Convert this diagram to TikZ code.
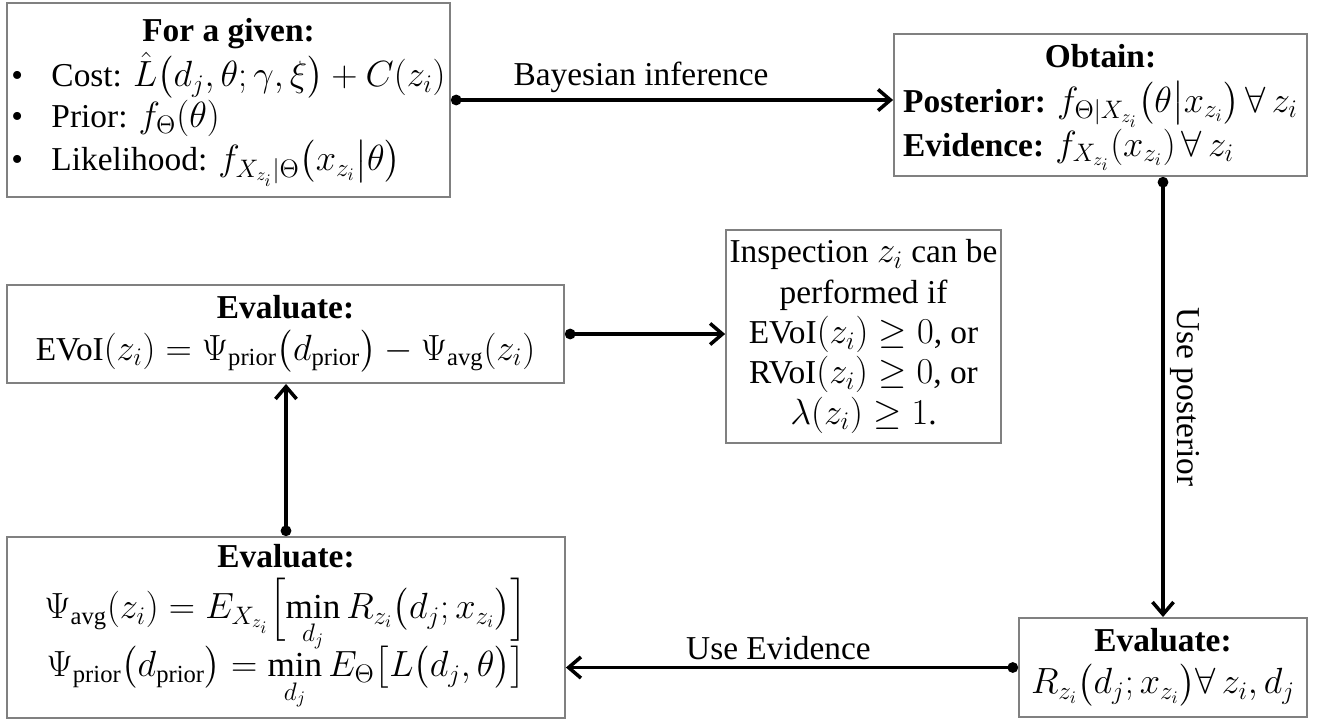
\documentclass[tikz,border=0pt]{standalone}
\usepackage{fontspec}
\usepackage{amsmath,amssymb}
\setmainfont{Liberation Serif}
\DeclareMathSizes{19}{20}{14}{10}
\usetikzlibrary{arrows.meta}

\tikzset{
  box/.style={draw=black!50, line width=1.1pt, inner sep=2pt, align=center},
  flow/.style={line width=2pt, {Circle[length=6pt]}-{Straight Barb[length=7pt,width=12pt]}},
}

\begin{document}
\begin{tikzpicture}[x=0.02cm,y=-0.02cm,font=\fontsize{19}{23}\selectfont]
\useasboundingbox (0,0) rectangle (1317,720);

% boxes
\node[box, minimum width=8.86cm, minimum height=3.88cm] (given) at (228.5,100)
  {\begin{tabular}{@{}l@{}}
   \multicolumn{1}{c}{\textbf{For a given:}}\\[-1pt]
   \textbullet\hspace{0.85em}Cost: $\hat{L}\bigl(d_j,\theta;\gamma,\xi\bigr)+C(z_i)$\\
   \textbullet\hspace{0.85em}Prior: $f_{\Theta}(\theta)$\\
   \textbullet\hspace{0.85em}Likelihood: $f_{X_{z_i}|\Theta}\bigl(x_{z_i}\big|\theta\bigr)$
   \end{tabular}};
\node[box, minimum width=8.26cm, minimum height=2.84cm] (obtain) at (1100.5,105)
  {\begin{tabular}{@{}l@{}}
   \multicolumn{1}{c}{\textbf{Obtain:}}\\[1pt]
   \textbf{Posterior:} $f_{\Theta|X_{z_i}}\bigl(\theta\big|x_{z_i}\bigr)\,\forall\,z_i$\\
   \textbf{Evidence:} $f_{X_{z_i}}(x_{z_i})\,\forall\,z_i$
   \end{tabular}};
\node[box, minimum width=11.14cm, minimum height=1.96cm] (evoi) at (285.5,334)
  {\textbf{Evaluate:}\\[1pt]
   EVoI$(z_i)=\Psi_{\mathrm{prior}}\bigl(d_{\mathrm{prior}}\bigr)-\Psi_{\mathrm{avg}}(z_i)$};
\node[box, minimum width=4.82cm, minimum height=4.26cm] (inspect) at (863.5,336.5)
  {Inspection $z_i$ can be\\ performed if\\ EVoI$(z_i)\geq 0$, or\\
   RVoI$(z_i)\geq 0$, or\\ $\lambda(z_i)\geq 1$.};
\node[box, minimum width=11.16cm, minimum height=3.62cm] (psi) at (286,627.5)
  {\textbf{Evaluate:}\\[4pt]
   $\Psi_{\mathrm{avg}}(z_i)=E_{X_{z_i}}\Bigl[\min\limits_{d_j}R_{z_i}\bigl(d_j;x_{z_i}\bigr)\Bigr]$\\[-5pt]
   $\Psi_{\mathrm{prior}}\bigl(d_{\mathrm{prior}}\bigr)=\min\limits_{d_j}E_{\Theta}\bigl[L\bigl(d_j,\theta\bigr)\bigr]$};
\node[box, minimum width=5.76cm, minimum height=1.98cm] (risk) at (1163,667.5)
  {\textbf{Evaluate:}\\[1pt]
   $R_{z_i}\bigl(d_j;x_{z_i}\bigr)\forall\,z_i,d_j$};

% connectors
\draw[flow] (given.east) -- node[above, pos=0.43] {Bayesian inference} (given.east -| obtain.west);
\draw[flow] (obtain.south -| risk.north) -- node[sloped, above] {Use posterior} (risk.north);
\draw[flow] (risk.west) -- node[above, pos=0.53] {Use Evidence} (risk.west -| psi.east);
\draw[flow] (psi.north) -- (psi.north |- evoi.south);
\draw[flow] (evoi.east) -- (evoi.east -| inspect.west);
\end{tikzpicture}
\end{document}
